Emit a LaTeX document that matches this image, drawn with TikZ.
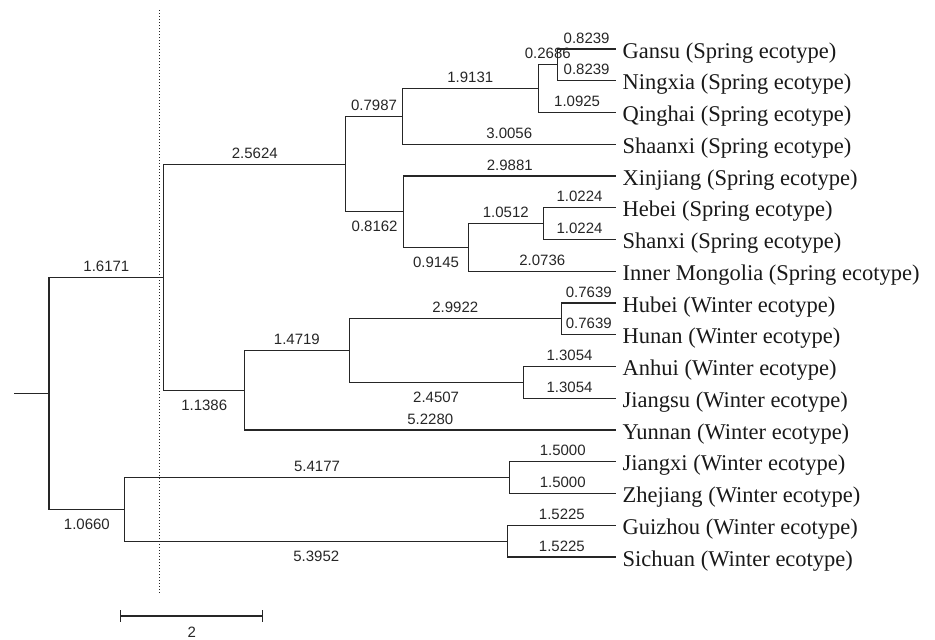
\documentclass[tikz,border=0pt]{standalone}
\usepackage{fontspec}
\setmainfont{Liberation Serif}
\newfontfamily\numfont{Liberation Sans}
\begin{document}
\begin{tikzpicture}[x=1pt,y=-1pt,
  br/.style={line width=1.2pt, draw=black!85},
  dotline/.style={line width=1.3pt, draw=black!85, dash pattern=on 1.3pt off 1.7pt},
  lf/.style={anchor=base west, font=\fontsize{22.5}{27}\selectfont, inner sep=0pt, text=black!90},
  num/.style={font=\numfont\fontsize{15}{18}\selectfont, inner sep=0pt, anchor=base, text=black!85},
  ab/.style={num, pos=0.75, yshift=6pt},
  bl/.style={num, pos=0.75, yshift=-20pt}]
\useasboundingbox (0,0) rectangle (935,640);

% leaves (tips)
\def\tx{616}
\coordinate (tGansu)    at (\tx,49);
\coordinate (tNingxia)  at (\tx,80.75);
\coordinate (tQinghai)  at (\tx,112.5);
\coordinate (tShaanxi)  at (\tx,144.25);
\coordinate (tXinjiang) at (\tx,176);
\coordinate (tHebei)    at (\tx,207.75);
\coordinate (tShanxi)   at (\tx,239.5);
\coordinate (tInner)    at (\tx,271.25);
\coordinate (tHubei)    at (\tx,303);
\coordinate (tHunan)    at (\tx,334.75);
\coordinate (tAnhui)    at (\tx,366.5);
\coordinate (tJiangsu)  at (\tx,398.25);
\coordinate (tYunnan)   at (\tx,430);
\coordinate (tJiangxi)  at (\tx,461.75);
\coordinate (tZhejiang) at (\tx,493.5);
\coordinate (tGuizhou)  at (\tx,525.25);
\coordinate (tSichuan)  at (\tx,557);

\def\lx{622.5}
\node[lf] (Gansu)    at (\lx,58.2)   {Gansu (Spring ecotype)};
\node[lf] (Ningxia)  at (\lx,89.95)  {Ningxia (Spring ecotype)};
\node[lf] (Qinghai)  at (\lx,121.7)  {Qinghai (Spring ecotype)};
\node[lf] (Shaanxi)  at (\lx,153.45) {Shaanxi (Spring ecotype)};
\node[lf] (Xinjiang) at (\lx,185.2)  {Xinjiang (Spring ecotype)};
\node[lf] (Hebei)    at (\lx,216.95) {Hebei (Spring ecotype)};
\node[lf] (Shanxi)   at (\lx,248.7)  {Shanxi (Spring ecotype)};
\node[lf] (Inner)    at (\lx,280.45) {Inner Mongolia (Spring ecotype)};
\node[lf] (Hubei)    at (\lx,312.2)  {Hubei (Winter ecotype)};
\node[lf] (Hunan)    at (\lx,343.95) {Hunan (Winter ecotype)};
\node[lf] (Anhui)    at (\lx,375.7)  {Anhui (Winter ecotype)};
\node[lf] (Jiangsu)  at (\lx,407.45) {Jiangsu (Winter ecotype)};
\node[lf] (Yunnan)   at (\lx,439.2)  {Yunnan (Winter ecotype)};
\node[lf] (Jiangxi)  at (\lx,470.95) {Jiangxi (Winter ecotype)};
\node[lf] (Zhejiang) at (\lx,502.7)  {Zhejiang (Winter ecotype)};
\node[lf] (Guizhou)  at (\lx,534.45) {Guizhou (Winter ecotype)};
\node[lf] (Sichuan)  at (\lx,566.2)  {Sichuan (Winter ecotype)};

% internal nodes
\coordinate (nGN)   at (557.3,64.875);
\coordinate (nGNQ)  at (538.2,88.69);
\coordinate (nS1)   at (402.4,116.47);
\coordinate (nHS)   at (543.1,223.625);
\coordinate (nHSI)  at (468.5,247.44);
\coordinate (nS2)   at (403.6,211.72);
\coordinate (nS)    at (345.7,164.1);
\coordinate (nHH)   at (561.5,318.875);
\coordinate (nAJ)   at (523.1,382.375);
\coordinate (nW1)   at (349.1,350.625);
\coordinate (nW)    at (244.6,390.3);
\coordinate (nA)    at (163.8,277.2);
\coordinate (nJZ)   at (509.4,477.625);
\coordinate (nGS)   at (507.8,541.125);
\coordinate (nB)    at (124.7,509.375);
\coordinate (root)  at (49,393.3);
\coordinate (root0) at (14,393.3);

% dotted reference line
\coordinate (d1) at (159.3,10);
\coordinate (d2) at (159.3,593);
\draw[dotline] (d1) -- (d2);

% branches
\draw[br] (root0) -- (root);
\draw[br] (root) |- node[ab]{1.6171} (nA);
\draw[br] (root) |- node[bl]{1.0660} (nB);
\draw[br] (nA) |- node[ab]{2.5624} (nS);
\draw[br] (nA) |- node[bl]{1.1386} (nW);
\draw[br] (nS) |- node[ab]{0.7987} (nS1);
\draw[br] (nS) |- node[bl]{0.8162} (nS2);
\draw[br] (nS1) |- node[ab]{1.9131} (nGNQ);
\draw[br] (nS1) |- node[ab]{3.0056} (tShaanxi);
\draw[br] (nGNQ) |- node[ab]{0.2686} (nGN);
\draw[br] (nGNQ) |- node[ab]{1.0925} (tQinghai);
\draw[br] (nGN) |- node[ab]{0.8239} (tGansu);
\draw[br] (nGN) |- node[ab]{0.8239} (tNingxia);
\draw[br] (nS2) |- node[ab]{2.9881} (tXinjiang);
\draw[br] (nS2) |- node[bl]{0.9145} (nHSI);
\draw[br] (nHSI) |- node[ab]{1.0512} (nHS);
\draw[br] (nHSI) |- node[ab]{2.0736} (tInner);
\draw[br] (nHS) |- node[ab]{1.0224} (tHebei);
\draw[br] (nHS) |- node[ab]{1.0224} (tShanxi);
\draw[br] (nW) |- node[ab]{1.4719} (nW1);
\draw[br] (nW) |- node[ab]{5.2280} (tYunnan);
\draw[br] (nW1) |- node[ab]{2.9922} (nHH);
\draw[br] (nW1) |- node[bl]{2.4507} (nAJ);
\draw[br] (nHH) |- node[ab]{0.7639} (tHubei);
\draw[br] (nHH) |- node[ab]{0.7639} (tHunan);
\draw[br] (nAJ) |- node[ab]{1.3054} (tAnhui);
\draw[br] (nAJ) |- node[ab]{1.3054} (tJiangsu);
\draw[br] (nB) |- node[ab]{5.4177} (nJZ);
\draw[br] (nB) |- node[bl]{5.3952} (nGS);
\draw[br] (nJZ) |- node[ab]{1.5000} (tJiangxi);
\draw[br] (nJZ) |- node[ab]{1.5000} (tZhejiang);
\draw[br] (nGS) |- node[ab]{1.5225} (tGuizhou);
\draw[br] (nGS) |- node[ab]{1.5225} (tSichuan);

% scale bar
\coordinate (sb1) at (120.7,616);
\coordinate (sb2) at (262.7,616);
\draw[br] (sb1) -- (sb2);
\draw[br] ([yshift=6pt]sb1) -- ([yshift=-6pt]sb1);
\draw[br] ([yshift=6pt]sb2) -- ([yshift=-6pt]sb2);
\node[num] (sblabel) at (191.7,637) {2};
\end{tikzpicture}
\end{document}
